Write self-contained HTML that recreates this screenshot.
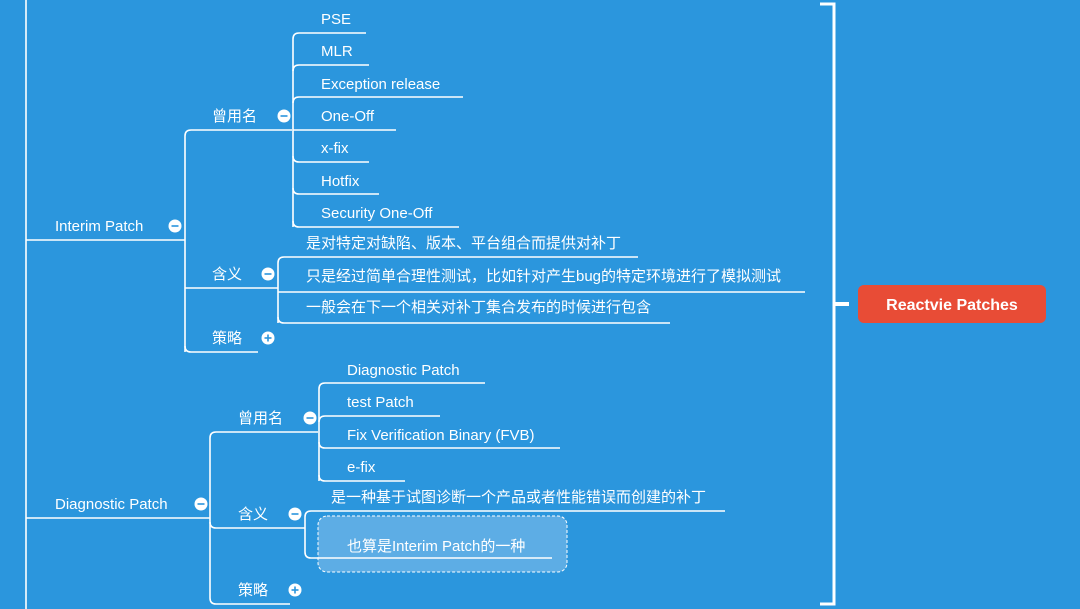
<!DOCTYPE html>
<html><head><meta charset="utf-8"><style>
html,body{margin:0;padding:0;background:#2b96dd;}
svg{display:block}
text{font-family:"Liberation Sans","Noto Sans CJK SC",sans-serif;font-size:15px;fill:#fff;}
.l{stroke:#fff;stroke-width:1.6;fill:none}
</style></head><body>
<svg width="1080" height="609" viewBox="0 0 1080 609" xmlns="http://www.w3.org/2000/svg">
<rect width="1080" height="609" fill="#2b96dd"/>
<defs>
<g id="mn"><circle r="6.5" fill="#fff"/><rect x="-3.5" y="-0.8" width="7" height="1.6" fill="#2b96dd"/></g>
<g id="pl"><circle r="6.5" fill="#fff"/><rect x="-3.5" y="-0.8" width="7" height="1.6" fill="#2b96dd"/><rect x="-0.8" y="-3.5" width="1.6" height="7" fill="#2b96dd"/></g>
</defs>
<path class="l" d="M26 0 V609"/>
<path d="M820 4 H834 V604 H820" stroke="#fff" stroke-width="3" fill="none"/>
<path d="M834 304 H849" stroke="#fff" stroke-width="4"/>
<rect x="858" y="285" width="188" height="38" rx="6" fill="#e84c36"/>
<text x="952" y="310" text-anchor="middle" style="font-weight:bold;font-size:16px">Reactvie Patches</text>

<path class="l" d="M26 240 H185"/>
<text x="55" y="231">Interim Patch</text>
<use href="#mn" x="175" y="226"/>
<path class="l" d="M185 352 V136 Q185 130 191 130 H292"/>
<path class="l" d="M185 346 Q185 352 191 352 H258"/>
<path class="l" d="M185 288 H278"/>
<text x="212" y="121">曾用名</text><use href="#mn" x="284" y="116"/>
<path class="l" d="M293 227 V39 Q293 33 299 33 H366"/>
<path class="l" d="M293 71 Q293 65 299 65 H369"/>
<path class="l" d="M293 103 Q293 97 299 97 H463"/>
<path class="l" d="M293 130 H396"/>
<path class="l" d="M293 156 Q293 162 299 162 H369"/>
<path class="l" d="M293 188 Q293 194 299 194 H379"/>
<path class="l" d="M293 221 Q293 227 299 227 H459"/>
<text x="321" y="24">PSE</text>
<text x="321" y="56">MLR</text>
<text x="321" y="89">Exception release</text>
<text x="321" y="121">One-Off</text>
<text x="321" y="153">x-fix</text>
<text x="321" y="186">Hotfix</text>
<text x="321" y="218">Security One-Off</text>

<text x="212" y="279">含义</text><use href="#mn" x="268" y="274"/>
<path class="l" d="M278 323 V263 Q278 257 284 257 H638"/>
<path class="l" d="M278 292 H805"/>
<path class="l" d="M278 317 Q278 323 284 323 H670"/>
<text x="306" y="248">是对特定对缺陷、版本、平台组合而提供对补丁</text>
<text x="306" y="281">只是经过简单合理性测试，比如针对产生bug的特定环境进行了模拟测试</text>
<text x="306" y="312">一般会在下一个相关对补丁集合发布的时候进行包含</text>
<text x="212" y="343">策略</text><use href="#pl" x="268" y="338"/>

<path class="l" d="M26 518 H210"/>
<text x="55" y="509">Diagnostic Patch</text>
<use href="#mn" x="201" y="504"/>
<path class="l" d="M210 598 V438 Q210 432 216 432 H318"/>
<path class="l" d="M210 598 Q210 604 216 604 H290"/>
<path class="l" d="M210 522 Q210 528 216 528 H305"/>
<text x="238" y="423">曾用名</text><use href="#mn" x="310" y="418"/>
<path class="l" d="M319 481 V389 Q319 383 325 383 H485"/>
<path class="l" d="M319 422 Q319 416 325 416 H440"/>
<path class="l" d="M319 442 Q319 448 325 448 H560"/>
<path class="l" d="M319 475 Q319 481 325 481 H405"/>
<text x="347" y="375">Diagnostic Patch</text>
<text x="347" y="407">test Patch</text>
<text x="347" y="440">Fix Verification Binary (FVB)</text>
<text x="347" y="472">e-fix</text>

<text x="238" y="519">含义</text><use href="#mn" x="295" y="514"/>
<rect x="318" y="516" width="249" height="56" rx="9" fill="#5dade5" stroke="#fff" stroke-width="1" stroke-dasharray="3,2"/>
<path class="l" d="M305 552 V517 Q305 511 311 511 H725"/>
<path class="l" d="M305 552 Q305 558 311 558 H552"/>
<text x="331" y="502">是一种基于试图诊断一个产品或者性能错误而创建的补丁</text>
<text x="347" y="551">也算是Interim Patch的一种</text>
<text x="238" y="595">策略</text><use href="#pl" x="295" y="590"/>
</svg>
</body></html>
